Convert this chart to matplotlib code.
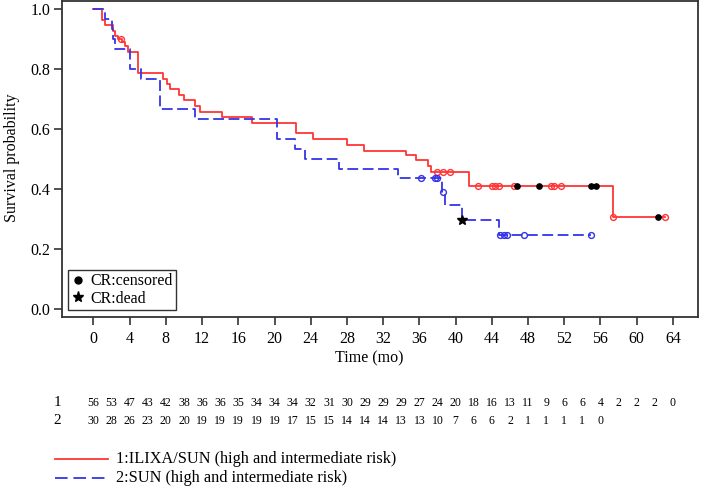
import numpy as np
import matplotlib
matplotlib.use("Agg")
import matplotlib.pyplot as plt
from matplotlib.lines import Line2D
from matplotlib import transforms

plt.rcParams['font.family'] = ['Liberation Serif', 'DejaVu Serif']

# ---- data ----
red_t = [0, 1.0, 1.3, 2.2, 2.4, 2.75, 3.2, 3.5, 3.85, 4.96, 7.7, 8.1, 8.5, 9.4, 9.97,
         11.2, 11.8, 14.2, 17.5, 22.4, 24.3, 28.0, 29.9, 34.5, 35.6, 36.9, 37.3, 41.5, 57.4]
red_s = [1.0, 0.964, 0.946, 0.927, 0.909, 0.900, 0.891, 0.877, 0.857, 0.786, 0.768, 0.750,
         0.732, 0.714, 0.696, 0.678, 0.657, 0.640, 0.621, 0.585, 0.566, 0.547, 0.528, 0.514,
         0.495, 0.476, 0.457, 0.411, 0.308]
red_end = 63.1
red_cens = [3.0, 37.9, 38.6, 39.4, 42.5, 44.0, 44.4, 44.8, 46.4, 50.5, 50.9, 51.6, 57.4, 63.1]
red_cr_cens = [46.8, 49.2, 55.0, 55.5, 62.3]

blue_t = [0, 1.3, 2.0, 2.2, 2.4, 4.05, 5.3, 7.4, 11.2, 20.3, 22.3, 23.4, 27.1, 33.6,
          38.5, 38.8, 40.7, 44.8]
blue_s = [1.0, 0.967, 0.933, 0.900, 0.867, 0.800, 0.767, 0.667, 0.633, 0.567, 0.533, 0.500,
          0.467, 0.435, 0.389, 0.345, 0.295, 0.245]
blue_end = 55.0
blue_cens = [36.2, 37.7, 37.9, 38.6, 44.9, 45.3, 45.7, 47.5, 55.0]
blue_cr_dead = [40.7]

risk_times = list(range(0, 65, 2))
risk_1 = [56, 53, 47, 43, 42, 38, 36, 36, 35, 34, 34, 34, 32, 31, 30, 29, 29, 29, 27, 24,
          20, 18, 16, 13, 11, 9, 6, 6, 4, 2, 2, 2, 0]
risk_2 = [30, 28, 26, 23, 20, 20, 19, 19, 19, 19, 19, 17, 15, 15, 14, 14, 14, 13, 13, 10,
          7, 6, 6, 2, 1, 1, 1, 1, 0]

xticks = list(range(0, 65, 4))
yticks = [0.0, 0.2, 0.4, 0.6, 0.8, 1.0]
label_1 = "1:ILIXA/SUN (high and intermediate risk)"
label_2 = "2:SUN (high and intermediate risk)"

RED = '#ff3535'
BLUE = '#3535e8'


def surv_at(ts, ss, t):
    idx = np.searchsorted(np.asarray(ts), np.asarray(t), side='right') - 1
    return np.asarray(ss)[idx]


fig = plt.figure(figsize=(7.03, 4.87), dpi=100)
ax = fig.add_axes([0.0878, 0.3497, 0.9055, 0.6483])

ax.step(red_t + [red_end], red_s + [red_s[-1]], where='post', color=RED, lw=1.3)
ax.step(blue_t + [blue_end], blue_s + [blue_s[-1]], where='post', color=BLUE, lw=1.3,
        dashes=(6, 2.5))

ax.plot(red_cens, surv_at(red_t, red_s, red_cens), 'o', mfc='none', mec=RED, ms=4.2, mew=1.0)
ax.plot(red_cr_cens, surv_at(red_t, red_s, red_cr_cens), 'o', color='black', ms=3.8)
ax.plot(blue_cens, surv_at(blue_t, blue_s, blue_cens), 'o', mfc='none', mec=BLUE, ms=4.2, mew=1.0)
ax.plot(blue_cr_dead, surv_at(blue_t, blue_s, blue_cr_dead), '*', color='black', ms=7)

ax.set_xlim(-3.5, 66.8)
ax.set_ylim(-0.026, 1.027)
ax.set_xticks(xticks)
ax.set_yticks(yticks)
ax.set_yticklabels([f"{v:.1f}" for v in yticks])
ax.tick_params(axis='both', direction='out', length=6, width=1.2, labelsize=11.5,
               color='#333333', pad=2)
ax.tick_params(axis='x', pad=4)
for sp in ax.spines.values():
    sp.set_linewidth(1.3)
    sp.set_color('#333333')

handles = [Line2D([], [], marker='o', color='black', ls='none', ms=5),
           Line2D([], [], marker='*', color='black', ls='none', ms=8)]
leg = ax.legend(handles, ['CR:censored', 'CR:dead'], loc='lower left',
                bbox_to_anchor=(0.01, 0.021), borderaxespad=0, fontsize=11.5,
                frameon=True, fancybox=False, edgecolor='black', handlelength=0.8,
                handletextpad=0.4, borderpad=0.2, labelspacing=0.1)
leg.get_frame().set_linewidth(1.0)

fig.text(0.017, 0.677, 'Survival probability', rotation=90, ha='center', va='center',
         fontsize=11.5)
fig.text(0.525, 0.265, 'Time (mo)', ha='center', va='center', fontsize=11.5)

trans = transforms.blended_transform_factory(ax.transData, fig.transFigure)
y1, y2 = 1 - 403 / 487, 1 - 421 / 487
fig.text(57 / 703, y1, '1', ha='center', va='center', fontsize=11)
fig.text(57 / 703, y2, '2', ha='center', va='center', fontsize=11)
for t, n in zip(risk_times, risk_1):
    ax.text(t, y1, str(n), transform=trans, ha='center', va='center', fontsize=8.5,
            clip_on=False)
for t, n in zip(risk_times, risk_2):
    ax.text(t, y2, str(n), transform=trans, ha='center', va='center', fontsize=8.5,
            clip_on=False)

ly1, ly2 = 1 - 459 / 487, 1 - 478 / 487
fig.add_artist(Line2D([55 / 703, 108 / 703], [ly1, ly1], color=RED, lw=1.3))
fig.add_artist(Line2D([55 / 703, 108 / 703], [ly2, ly2], color=BLUE, lw=1.3, dashes=(7, 3.2)))
fig.text(116 / 703, ly1, label_1, ha='left', va='center', fontsize=11.7)
fig.text(116 / 703, ly2, label_2, ha='left', va='center', fontsize=11.7)

fig.savefig('out.png', dpi=100)
